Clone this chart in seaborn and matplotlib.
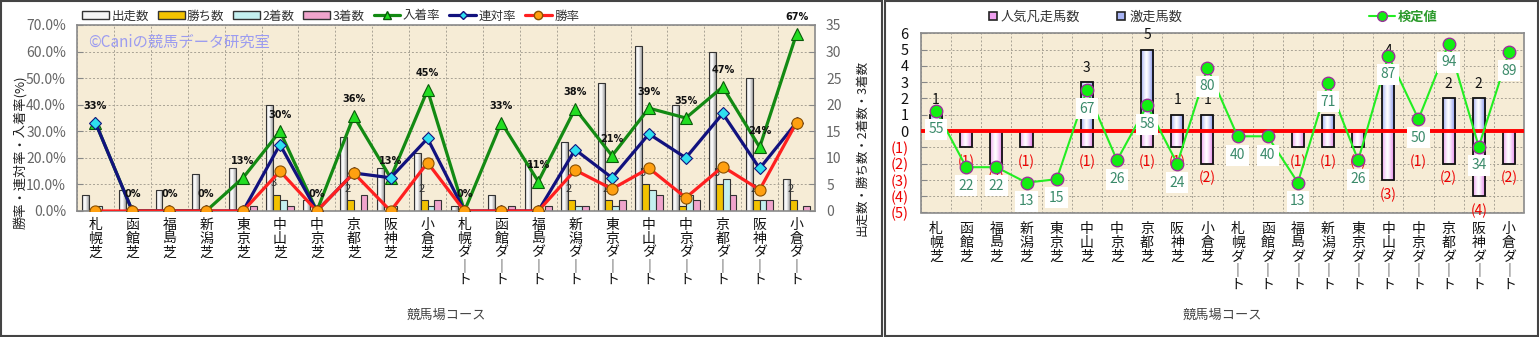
import numpy as np
import pandas as pd
import matplotlib
matplotlib.use("Agg")
import matplotlib.pyplot as plt
import seaborn as sns
from matplotlib.patches import Patch, Rectangle
from matplotlib.lines import Line2D

# ---------------- data ----------------
courses = ['札幌芝', '函館芝', '福島芝', '新潟芝', '東京芝', '中山芝', '中京芝', '京都芝', '阪神芝', '小倉芝',
           '札幌ダート', '函館ダート', '福島ダート', '新潟ダート', '東京ダート', '中山ダート', '中京ダート',
           '京都ダート', '阪神ダート', '小倉ダート']
starts = [3, 4, 4, 7, 8, 20, 2, 14, 8, 11, 1, 3, 9, 13, 24, 31, 20, 30, 25, 6]
wins = [0, 0, 0, 0, 0, 3, 0, 2, 0, 2, 0, 0, 0, 2, 2, 5, 1, 5, 2, 2]
seconds = [1, 0, 0, 0, 0, 2, 0, 0, 1, 1, 0, 0, 0, 1, 1, 4, 3, 6, 2, 0]
thirds = [0, 0, 0, 0, 1, 1, 0, 3, 0, 2, 0, 1, 1, 1, 2, 3, 2, 3, 2, 1]
place_rate = [33.3, 0, 0, 0, 12.5, 30.0, 0, 35.7, 12.5, 45.5, 0, 33.3, 11.1, 38.5, 20.8, 38.7, 35.0, 46.7, 24.0, 66.7]
place_labels = ['33%', '0%', '0%', '0%', '13%', '30%', '0%', '36%', '13%', '45%', '0%', '33%', '11%', '38%',
                '21%', '39%', '35%', '47%', '24%', '67%']
quinella_rate = [33.3, 0, 0, 0, 0, 25.0, 0, 14.3, 12.5, 27.3, 0, 0, 0, 23.1, 12.5, 29.0, 20.0, 36.7, 16.0, 33.3]
win_rate = [0, 0, 0, 0, 0, 15.0, 0, 14.3, 0, 18.2, 0, 0, 0, 15.4, 8.3, 16.1, 5.0, 16.7, 8.0, 33.3]

gekisou = [1, 0, 0, 0, 0, 3, 0, 5, 1, 1, 0, 0, 0, 1, 0, 4, 0, 2, 2, 0]
ninki = [0, 1, 2, 1, 0, 1, 0, 1, 1, 2, 0, 0, 1, 1, 1, 3, 1, 2, 4, 2]
kentei = [55, 22, 22, 13, 15, 67, 26, 58, 24, 80, 40, 40, 13, 71, 26, 87, 50, 94, 34, 89]

# ---------------- style ----------------
sns.set_style("white")
plt.rcParams['font.family'] = ['Noto Sans CJK JP', 'DejaVu Sans']
plt.rcParams['axes.unicode_minus'] = False

W, H = 1539, 337
fig = plt.figure(figsize=(W / 100, H / 100), dpi=100)
fig.patch.set_facecolor('white')


def fx(px):
    return px / W


def fy(py):
    return 1 - py / H


BG = '#f6ecd6'
GRID = '#a8a294'


def vert(s):
    return '\n'.join(s.replace('ー', '｜'))


def cylinder(ax, container, edge_hex, zorder):
    edge = np.array(matplotlib.colors.to_rgb(edge_hex))
    t = np.linspace(0, 1, 64)
    w = np.clip(np.abs(t - 0.42) / 0.58, 0, 1) ** 1.3
    rgb = (1 - w)[:, None] * np.ones(3) + w[:, None] * edge
    img = np.concatenate([rgb, np.ones((64, 1))], axis=1)[None, :, :]
    xl, yl = ax.get_xlim(), ax.get_ylim()
    for p in container.patches:
        h = p.get_height()
        if h == 0:
            continue
        x0, y0, wd = p.get_x(), p.get_y(), p.get_width()
        im = ax.imshow(img, extent=[x0, x0 + wd, min(y0, y0 + h), max(y0, y0 + h)],
                       aspect='auto', interpolation='bilinear', zorder=zorder)
        im.set_clip_path(p)
        p.set_facecolor('none')
    ax.set_xlim(xl)
    ax.set_ylim(yl)


x = np.arange(len(courses))

# ================= LEFT PANEL =================
axL = fig.add_axes([fx(77), fy(211), fx(815) - fx(77), fy(25) - fy(211)])
axL.set_facecolor(BG)
series_names = ['出走数', '勝ち数', '2着数', '3着数']
bar_colors = {'出走数': '#f4f4f4', '勝ち数': '#f2c200', '2着数': '#c4f0f0', '3着数': '#f0a4cc'}
dfL = pd.DataFrame({'コース': courses * 4,
                    '系列': np.repeat(series_names, len(courses)),
                    '数': starts + wins + seconds + thirds})
sns.barplot(data=dfL, x='コース', y='数', hue='系列', order=courses, hue_order=series_names,
            palette=bar_colors, width=0.74, edgecolor='#333333', linewidth=0.8, saturation=1,
            errorbar=None, legend=False, ax=axL, zorder=2)
axL.set_xlim(-0.5, len(courses) - 0.5)
axL.set_ylim(0, 35)
cylinder(axL, axL.containers[0], '#9a9a9a', 1.9)

# rate lines on twin axis
axR = axL.twinx()
axR.set_ylim(0, 70)

# grid
axL.set_axisbelow(True)
axL.set_yticks(np.arange(0, 36, 5))
axL.set_xticks(np.arange(-0.5, len(courses), 1), minor=True)
axL.grid(True, which='major', axis='y', ls=(0, (2, 2)), color=GRID, lw=0.7, zorder=0)
axL.grid(True, which='minor', axis='x', ls=(0, (2, 2)), color=GRID, lw=0.7, zorder=0)
axL.grid(False, which='major', axis='x')

axL.yaxis.set_ticks_position('right')
axL.tick_params(axis='y', which='both', left=False, labelleft=False, right=True, labelright=True,
                direction='in', length=4, pad=8, labelsize=10, labelcolor='#666666', color='#888888')
axL.tick_params(axis='x', which='both', length=0, pad=5)
axL.set_xticks(x)
axL.set_xticklabels([vert(c) for c in courses], fontsize=10, linespacing=0.98, color='#111111')
axL.set_xlabel('')
axL.set_ylabel('')
for s in axL.spines.values():
    s.set_color('#8a8a8a')
    s.set_linewidth(1.2)

# win-count labels
for p, w in zip(axL.containers[1].patches, wins):
    if w > 0:
        axL.annotate(str(w), (p.get_x() + p.get_width() / 2, w), xytext=(-2, 8.5),
                     textcoords='offset points', ha='center', va='center',
                     fontsize=8, color='#333333', zorder=6)

axL.text(0.015, 0.905, '©Caniの競馬データ研究室', transform=axL.transAxes,
         color='#9c9cf0', fontsize=11, ha='left', va='center', zorder=6)

axR.plot(x, place_rate, color='#138a13', lw=2.3, marker='^', ms=9, mfc='#22dd22', mec='#0a5a0a', mew=0.8, zorder=3)
axR.plot(x, quinella_rate, color='#12127e', lw=2.3, marker='D', ms=6.5, mfc='#2ee0f0', mec='#12127e', mew=0.8, zorder=4)
axR.plot(x, win_rate, color='#ff2020', lw=2.3, marker='o', ms=8, mfc='#ffa010', mec='#8a5000', mew=0.8, zorder=5)
for i, (v, lab) in enumerate(zip(place_rate, place_labels)):
    axR.annotate(lab, (i, v), xytext=(0, 12), textcoords='offset points', ha='center', va='center',
                 fontsize=7, weight='bold', color='#111111', family='DejaVu Sans', zorder=7)
axR.set_yticks(np.arange(0, 71, 10))
axR.set_yticklabels([f'{v:.1f}%' for v in np.arange(0, 71, 10)])
axR.tick_params(axis='y', which='both', left=True, labelleft=True, right=False, labelright=False,
                direction='in', length=4, pad=8, labelsize=10, labelcolor='#666666', color='#888888')
for s in axR.spines.values():
    s.set_visible(False)

# left legend
handlesL = [Patch(fc=bar_colors[n], ec='#333333', lw=1.0) for n in series_names] + [
    Line2D([], [], color='#138a13', lw=2.3, marker='^', ms=6, mfc='#22dd22', mec='#0a5a0a'),
    Line2D([], [], color='#12127e', lw=2.3, marker='D', ms=4.5, mfc='#2ee0f0', mec='#12127e'),
    Line2D([], [], color='#ff2020', lw=2.3, marker='o', ms=6, mfc='#ffa010', mec='#8a5000')]
labelsL = series_names + ['入着率', '連対率', '勝率']
legL = fig.legend(handlesL, labelsL, loc='center left', bbox_to_anchor=(fx(82), fy(16)), ncol=7,
                  frameon=False, fontsize=9, handlelength=2.15, handleheight=0.6, handletextpad=0.2,
                  columnspacing=0.7, borderpad=0, borderaxespad=0)
for t in legL.get_texts():
    t.set_color('#333333')

fig.text(fx(20), fy(152), '勝率・連対率・入着率(%)', rotation=90, ha='center', va='center',
         fontsize=9.5, color='#222222')
fig.text(fx(862), fy(148), '出走数・勝ち数・2着数・3着数', rotation=90, ha='center', va='center',
         fontsize=9, color='#222222')
fig.text(fx(446), fy(315), '競馬場コース', ha='center', va='center', fontsize=9.5, color='#444444')

# ================= RIGHT PANEL =================
axB = fig.add_axes([fx(921), fy(212.5), fx(1524) - fx(921), fy(33.3) - fy(212.5)])
axB.set_facecolor(BG)
dfB = pd.DataFrame({'コース': courses, '激走馬数': gekisou, '人気凡走馬数': [-v for v in ninki]})
sns.barplot(data=dfB, x='コース', y='激走馬数', order=courses, color='#8494ec', width=0.4,
            edgecolor='#111111', linewidth=1.3, saturation=1, errorbar=None, ax=axB, zorder=2)
sns.barplot(data=dfB, x='コース', y='人気凡走馬数', order=courses, color='#ec84ec', width=0.4,
            edgecolor='#111111', linewidth=1.3, saturation=1, errorbar=None, ax=axB, zorder=2)
axB.set_xlim(-0.5, len(courses) - 0.5)
axB.set_ylim(-5, 6)
cylinder(axB, axB.containers[0], '#7080e8', 1.9)
cylinder(axB, axB.containers[1], '#e070e8', 1.9)

axB.axhline(0, color='#ff0000', lw=2.8, zorder=3)

axK = axB.twinx()
axK.set_ylim(-4.4, 100)

axB.set_axisbelow(True)
yt = np.arange(-5, 7)
axB.set_yticks(yt)
axB.set_yticklabels([str(v) if v >= 0 else f'({-v})' for v in yt])
for lab, v in zip(axB.get_yticklabels(), yt):
    lab.set_color('#111111' if v >= 0 else '#ee0000')
axB.set_xticks(np.arange(-0.5, len(courses), 1), minor=True)
axB.grid(True, which='major', axis='y', ls=(0, (2, 2)), color=GRID, lw=0.7, zorder=0)
axB.grid(True, which='minor', axis='x', ls=(0, (2, 2)), color=GRID, lw=0.7, zorder=0)
axB.grid(False, which='major', axis='x')
axB.tick_params(axis='y', which='both', left=True, labelleft=True, right=False, labelright=False,
                direction='in', length=4, pad=9, labelsize=10.5, color='#888888')
axB.tick_params(axis='x', which='both', length=0, pad=7)
axB.set_xticks(x)
axB.set_xticklabels([vert(c) for c in courses], fontsize=10, linespacing=0.98, color='#111111')
axB.set_xlabel('')
axB.set_ylabel('')
for s in axB.spines.values():
    s.set_color('#8a8a8a')
    s.set_linewidth(1.2)

for i, (g, n) in enumerate(zip(gekisou, ninki)):
    if g > 0:
        axB.annotate(str(g), (i, g), xytext=(0, 10.5), textcoords='offset points', ha='center',
                     va='center', fontsize=10, color='#111111', zorder=5)
    if n > 0:
        axB.annotate(f'({n})', (i, -n), xytext=(0, -10.5), textcoords='offset points', ha='center',
                     va='center', fontsize=10, color='#ee0000', zorder=5)

axK.plot(x, kentei, color='#22ee22', lw=1.5, marker='o', ms=9, mfc='#11ee11', mec='#993399', mew=1.0, zorder=3)
for i, v in enumerate(kentei):
    axK.annotate(str(v), (i, v), xytext=(0, -13.5), textcoords='offset points', ha='center', va='center',
                 fontsize=10, color='#3a8a6a', zorder=4,
                 bbox=dict(boxstyle='square,pad=0.25', fc='white', ec='none'))
axK.set_yticks([])
axK.tick_params(axis='y', which='both', left=False, right=False, labelleft=False, labelright=False)
for s in axK.spines.values():
    s.set_visible(False)

# right legends
hB = [Line2D([], [], ls='none', marker='s', ms=6, mfc='#f0a0f0', mec='#222222', mew=1.2),
      Line2D([], [], ls='none', marker='s', ms=6, mfc='#a8b4f4', mec='#222222', mew=1.2)]
legB = fig.legend(hB, ['人気凡走馬数', '激走馬数'], loc='center left', bbox_to_anchor=(fx(989), fy(17)),
                  ncol=2, frameon=False, fontsize=9.5, handlelength=0.6, handletextpad=0.3,
                  columnspacing=2.8, borderpad=0, borderaxespad=0)
for t in legB.get_texts():
    t.set_color('#333333')
hK = [Line2D([], [], color='#22ee22', lw=1.5, marker='o', ms=7, mfc='#11ee11', mec='#993399', mew=1.0)]
legK = fig.legend(hK, ['検定値'], loc='center left', bbox_to_anchor=(fx(1369), fy(17)),
                  frameon=False, fontsize=9.5, handlelength=2.0, handletextpad=0.2,
                  borderpad=0, borderaxespad=0)
for t in legK.get_texts():
    t.set_color('#2a9a2a')
    t.set_weight('bold')

fig.text(fx(1222), fy(315), '競馬場コース', ha='center', va='center', fontsize=9.5, color='#444444')

# panel borders
fig.add_artist(Rectangle((fx(1), fy(336)), fx(882) - fx(1), fy(1) - fy(336), transform=fig.transFigure,
                         fill=False, ec='#444444', lw=1.5))
fig.add_artist(Rectangle((fx(884.5), fy(336)), fx(1537.5) - fx(884.5), fy(1) - fy(336),
                         transform=fig.transFigure, fill=False, ec='#444444', lw=1.5))

fig.savefig('out.png', dpi=100, facecolor='white')
